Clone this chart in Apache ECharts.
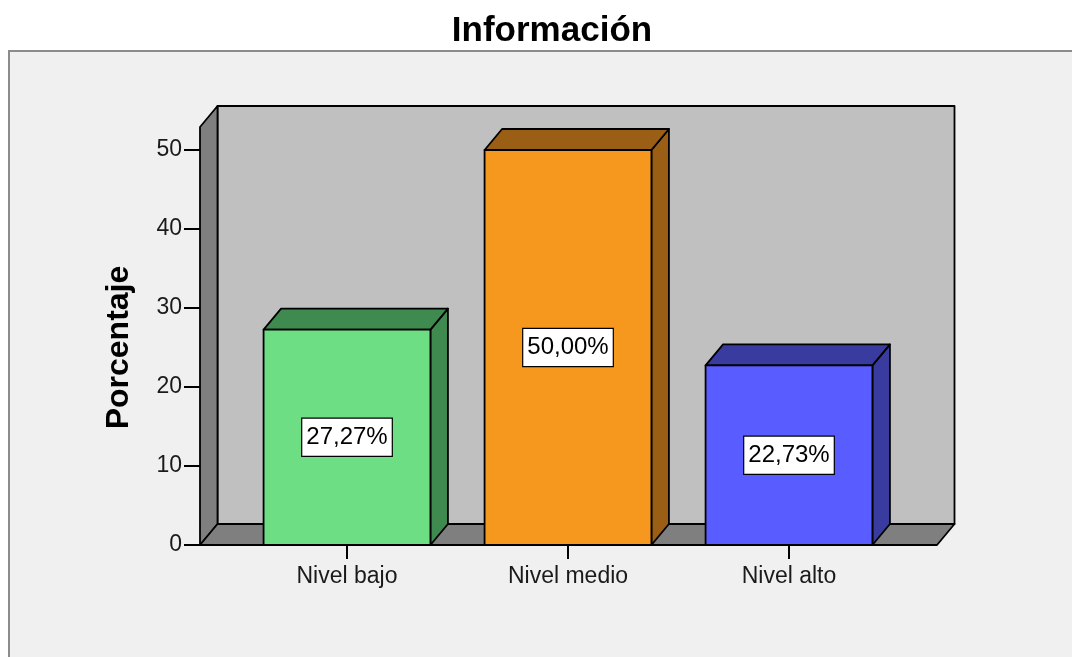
<!DOCTYPE html>
<html>
<head>
<meta charset="utf-8">
<script src="https://cdn.jsdelivr.net/npm/echarts@6/dist/echarts.min.js"></script>
<style>
html,body{margin:0;padding:0;background:#fff;}
#chart{width:1072px;height:657px;}
</style>
</head>
<body>
<div id="chart"></div>
<script>
var categories = ["Nivel bajo", "Nivel medio", "Nivel alto"];
var values = [27.27, 50.00, 22.73];
var frontColors = ["#6ede84", "#f7981e", "#595cff"];
var sideColors = ["#3f8a4f", "#9a5e14", "#393c9e"];
var yTicks = [0, 10, 20, 30, 40, 50];

var FONT = "'Liberation Sans', Arial, sans-serif";
var DX = 17.5, DY = -21;

var chart = echarts.init(document.getElementById('chart'));

function fmt(v){ return v.toFixed(2).replace('.', ',') + '%'; }

var option = {
  backgroundColor: '#ffffff',
  animation: false,
  title: {
    text: 'Información',
    left: 547, top: 9, textAlign: 'center',
    textStyle: {fontFamily: FONT, fontSize: 35, fontWeight: 'bold', color: '#000'}
  },
  graphic: [{
    type: 'rect', z: -10, silent: true,
    shape: {x: 9, y: 51, width: 1200, height: 800},
    style: {fill: '#f0f0f0', stroke: '#8c8c8c', lineWidth: 2}
  }],
  grid: {left: 236.5, right: 172.5, top: 150, bottom: 112},
  xAxis: {
    type: 'category',
    data: categories,
    axisLine: {show: false},
    axisTick: {show: true, alignWithLabel: true, length: 14, lineStyle: {color: '#000', width: 2}},
    axisLabel: {margin: 20, fontFamily: FONT, fontSize: 23, color: '#1a1a1a'},
    splitLine: {show: false}
  },
  yAxis: {
    type: 'value',
    min: 0, max: 50, interval: 10,
    offset: 36.5,
    name: 'Porcentaje',
    nameLocation: 'middle',
    nameRotate: 90,
    nameGap: 65,
    nameTextStyle: {fontFamily: FONT, fontSize: 32, fontWeight: 'bold', color: '#000'},
    axisLine: {show: false},
    axisTick: {show: true, length: 16, lineStyle: {color: '#000', width: 2}, customValues: yTicks},
    axisLabel: {margin: 18, fontFamily: FONT, fontSize: 23, color: '#1a1a1a', customValues: yTicks},
    splitLine: {show: false}
  },
  series: [
    {
      type: 'custom',
      z: 1,
      silent: true,
      clip: false,
      data: [0],
      renderItem: function(params, api){
        var cs = params.coordSys;
        var x0 = cs.x - 36.5;
        var x1 = cs.x + cs.width + 37.5;
        var yb = cs.y + cs.height;
        var yt = cs.y - 23;
        var st = {stroke: '#000', lineWidth: 1.8, lineJoin: 'round'};
        return {
          type: 'group',
          children: [
            {type: 'polygon', shape: {points: [[x0+DX, yt+DY],[x1+DX, yt+DY],[x1+DX, yb+DY],[x0+DX, yb+DY]]},
             style: Object.assign({fill: '#c0c0c0'}, st)},
            {type: 'polygon', shape: {points: [[x0, yt],[x0+DX, yt+DY],[x0+DX, yb+DY],[x0, yb]]},
             style: Object.assign({fill: '#7f7f7f'}, st)},
            {type: 'polygon', shape: {points: [[x0, yb],[x0+DX, yb+DY],[x1+DX, yb+DY],[x1, yb]]},
             style: Object.assign({fill: '#7f7f7f'}, st)}
          ]
        };
      }
    },
    {
      type: 'custom',
      z: 5,
      silent: true,
      clip: false,
      data: values.map(function(v, i){ return [i, v]; }),
      renderItem: function(params, api){
        var i = api.value(0);
        var top = api.coord([i, api.value(1)]);
        var bot = api.coord([i, 0]);
        var w = api.size([1, 0])[0] * 0.755;
        var cx = top[0];
        var xl = cx - w/2, xr = cx + w/2;
        var yt = top[1], yb = bot[1];
        var st = {stroke: '#000', lineWidth: 1.8, lineJoin: 'round'};
        return {
          type: 'group',
          children: [
            {type: 'polygon', shape: {points: [[xr, yt],[xr+DX, yt+DY],[xr+DX, yb+DY],[xr, yb]]},
             style: Object.assign({fill: sideColors[i]}, st)},
            {type: 'polygon', shape: {points: [[xl, yt],[xl+DX, yt+DY],[xr+DX, yt+DY],[xr, yt]]},
             style: Object.assign({fill: sideColors[i]}, st)},
            {type: 'rect', shape: {x: xl, y: yt, width: w, height: yb - yt},
             style: Object.assign({fill: frontColors[i]}, st)},
            {type: 'text', z2: 10,
             style: {text: fmt(values[i]), x: cx, y: (yt + yb)/2, align: 'center', verticalAlign: 'middle',
                     fill: '#000', font: '24px ' + FONT,
                     backgroundColor: '#fff', borderColor: '#000', borderWidth: 1.2, padding: [7, 4, 6, 4]}}
          ]
        };
      }
    }
  ]
};
chart.setOption(option);
</script>
</body>
</html>
